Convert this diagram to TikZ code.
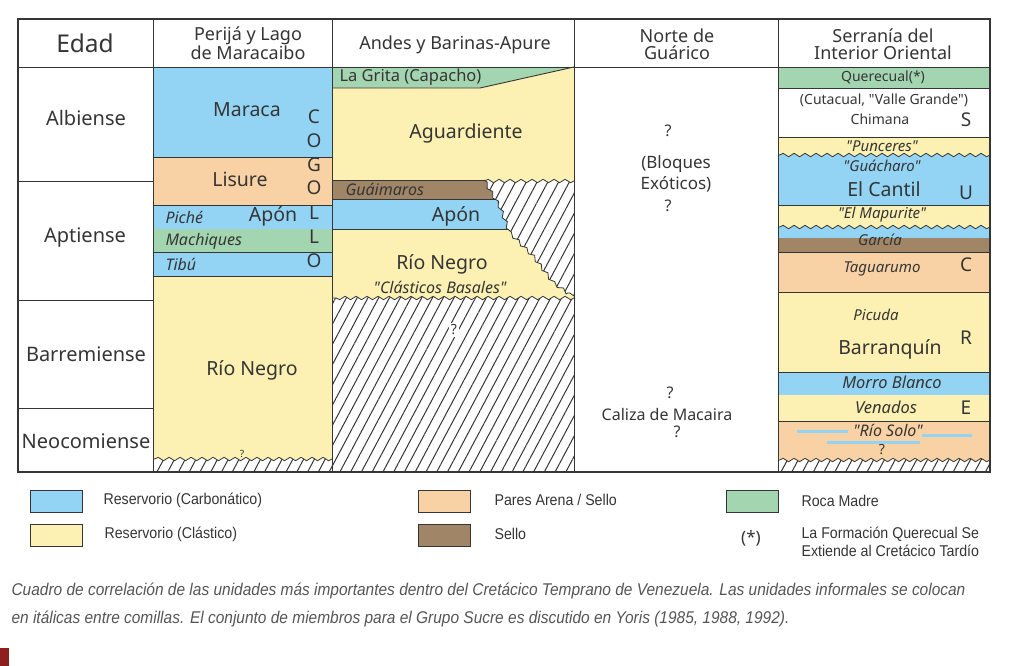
\documentclass[tikz,border=0pt]{standalone}
\usepackage{fontspec}
\setmainfont{Noto Sans}[Ligatures=TeXOff]
\newfontfamily\narrowfont[FakeStretch=0.91]{Liberation Sans}
\usetikzlibrary{patterns.meta,decorations.pathmorphing}
\definecolor{carbo}{HTML}{93D4F5}
\definecolor{clast}{HTML}{FCF1B3}
\definecolor{pares}{HTML}{F8D2A4}
\definecolor{sello}{HTML}{A08566}
\definecolor{roca}{HTML}{A4D5B1}
\definecolor{ink}{HTML}{353535}
\definecolor{capgray}{HTML}{555555}
\definecolor{tabred}{HTML}{8E1F1F}

\begin{document}
\begin{tikzpicture}[x=1pt,y=-1pt,
  decoration={snake,amplitude=1.7pt,segment length=11pt},
  ln/.style={draw=ink,line width=0.9pt},
  wave/.style={draw=ink,line width=0.8pt,decorate},
  hatch/.style={pattern={Lines[angle=62,distance=9.5pt,line width=1pt]},pattern color=ink},
  hd/.style={font=\fontsize{18}{17}\selectfont,align=center,text=ink},
  age/.style={font=\fontsize{20}{20}\selectfont,text=ink},
  unit/.style={font=\fontsize{19.5}{19}\selectfont,text=ink},
  sm/.style={font=\fontsize{14}{14}\selectfont,text=ink},
  it/.style={font=\fontsize{15}{15}\selectfont\itshape,text=ink},
  bigit/.style={font=\fontsize{16}{16}\selectfont\itshape,text=ink},
  grp/.style={font=\fontsize{19}{19}\selectfont,text=ink},
  leg/.style={font=\narrowfont\fontsize{15.6}{18}\selectfont,text=ink,anchor=west,align=left},
  key/.style={draw=ink,line width=0.9pt,minimum width=52pt,minimum height=22pt,inner sep=0pt}
]
\useasboundingbox (0,0) rectangle (1020,666);

% Perija y Lago de Maracaibo
\fill[carbo] (153,67) rectangle (332,157);
\fill[pares] (153,157) rectangle (332,205);
\fill[carbo] (153,205) rectangle (332,229);
\fill[roca] (153,229) rectangle (332,252);
\fill[carbo] (153,252) rectangle (332,276);
\fill[hatch] (153,452) rectangle (332,472);
\fill[clast] (153,276) -- (332,276) -- (332,459) decorate{-- (153,459)} -- cycle;
\draw[wave] (332,459) -- (153,459);
\draw[ln] (153,157) -- (332,157) (153,205) -- (332,205) (153,252) -- (332,252) (153,276) -- (332,276);

\node[unit] (maraca) at (247,110) {Maraca};
\node[unit] (lisure) at (240,179) {Lisure};
\node[bigit,anchor=west] (piche) at (162,217) {Piché};
\node[unit] (apon1) at (273,216) {Apón};
\node[bigit,anchor=west] (machiques) at (162,241) {Machiques};
\node[bigit,anchor=west] (tibu) at (162,264) {Tibú};
\node[unit] (rionegro1) at (252,370) {Río Negro};
\node[font=\fontsize{10}{10}\selectfont,text=ink,inner sep=1pt] (q1) at (242,454) {?};
\foreach \ch/\yy [count=\i] in {C/117,O/141,G/165,O/188,L/213,L/237,O/261}
  \node[grp] (cog\i) at (314,\yy) {\ch};

% Andes y Barinas-Apure
\fill[hatch] (332,178) rectangle (574,472);
\fill[roca] (332,67) -- (574,67) -- (480,88) -- (332,88) -- cycle;
\fill[clast] (332,88) -- (480,88) -- (574,67) -- (574,181) decorate{-- (484,181)} -- (332,181) -- cycle;
\draw[wave] (574,181) -- (484,181);
\draw[ln] (332,88) -- (480,88) -- (574,67);
\begin{scope}
  \clip (332,180) -- (484,180) decorate{-- (497,202) -- (507,228) -- (531,252) -- (553,281) -- (574,296)}
        -- (574,298) decorate{-- (332,298)} -- cycle;
  \fill[sello] (332,180) rectangle (574,199);
  \fill[carbo] (332,199) rectangle (574,229);
  \fill[clast] (332,229) rectangle (574,300);
  \draw[ln] (332,199) -- (574,199) (332,229) -- (574,229);
\end{scope}
\draw[ln] (332,180) -- (484,180);
\draw[wave] (484,180) -- (497,202) -- (507,228) -- (531,252) -- (553,281) -- (574,296);
\draw[wave] (574,298) -- (332,298);

\node[font=\fontsize{16.5}{16}\selectfont,text=ink,anchor=west] (grita) at (336,77) {La Grita (Capacho)};
\node[unit] (aguardiente) at (466,133) {Aguardiente};
\node[bigit,anchor=west] (guaimaros) at (342,189) {Guáimaros};
\node[unit] (apon2) at (456,216) {Apón};
\node[unit] (rionegro2) at (442,264) {Río Negro};
\node[bigit] (basales) at (440,287) {"Clásticos Basales"};
\node[sm,fill=white,inner sep=2pt] (q2) at (454,330) {?};

% Norte de Guarico
\node[sm,font=\fontsize{16}{16}\selectfont] (q3) at (668,131) {?};
\node[align=center,text=ink,font=\fontsize{17}{21}\selectfont] (bloques) at (676,174) {(Bloques\\Exóticos)};
\node[sm,font=\fontsize{16}{16}\selectfont] (q4) at (668,206) {?};
\node[sm,font=\fontsize{16}{16}\selectfont] (q5) at (670,393) {?};
\node[sm,font=\fontsize{16}{16}\selectfont] (macaira) at (667,414) {Caliza de Macaira};
\node[sm,font=\fontsize{16}{16}\selectfont] (q6) at (677,432) {?};

% Serrania del Interior Oriental
\fill[roca] (778,67) rectangle (990,88);
\fill[carbo] (778,150) rectangle (990,205);
\fill[clast] (778,137) -- (990,137) -- (990,155) decorate{-- (778,155)} -- cycle;
\draw[wave] (990,155) -- (778,155);
\fill[carbo] (778,220) rectangle (990,238);
\fill[clast] (778,205) -- (990,205) -- (990,227) decorate{-- (778,227)} -- cycle;
\draw[wave] (990,227) -- (778,227);
\fill[sello] (778,238) rectangle (990,252);
\fill[pares] (778,252) rectangle (990,292);
\fill[clast] (778,292) rectangle (990,372);
\fill[carbo] (778,372) rectangle (990,395);
\fill[clast] (778,395) rectangle (990,421);
\fill[hatch] (778,452) rectangle (990,472);
\fill[pares] (778,421) -- (990,421) -- (990,460) decorate{-- (778,460)} -- cycle;
\draw[wave] (990,460) -- (778,460);
\draw[carbo,line width=3pt] (797,431) -- (848,431) (922,435) -- (972,435) (827,442) -- (920,442);
\draw[ln] (778,88) -- (990,88) (778,137) -- (990,137) (778,205) -- (990,205) (778,252) -- (990,252)
          (778,292) -- (990,292) (778,372) -- (990,372) (778,421) -- (990,421);

\node[sm] (querecual) at (883,77) {Querecual(*)};
\node[sm] (cutacual) at (884,100) {(Cutacual, "Valle Grande")};
\node[sm] (chimana) at (880,119) {Chimana};
\node[it] (punceres) at (882,146) {"Punceres"};
\node[it] (guacharo) at (882,166) {"Guácharo"};
\node[unit] (cantil) at (884,189) {El Cantil};
\node[it] (mapurite) at (882,215) {"El Mapurite"};
\node[it] (garcia) at (880,240) {García};
\node[it] (taguarumo) at (882,269) {Taguarumo};
\node[it] (picuda) at (876,315) {Picuda};
\node[unit] (barranquin) at (890,349) {Barranquín};
\node[bigit,font=\fontsize{16.5}{16}\selectfont\itshape] (morro) at (892,382) {Morro Blanco};
\node[bigit,font=\fontsize{16.5}{16}\selectfont\itshape] (venados) at (886,407) {Venados};
\node[bigit] (riosolo) at (888,430) {"Río Solo"};
\node[sm] (q7) at (882,450) {?};
\foreach \ch/\yy [count=\i] in {S/120,U/193,C/265,R/338,E/408}
  \node[grp] (sucre\i) at (966,\yy) {\ch};

% frame and ages
\draw[ln,line width=1.3pt] (18,19) rectangle (990,472);
\draw[ln] (153,19) -- (153,472) (332,19) -- (332,472) (574,19) -- (574,472) (778,19) -- (778,472)
          (18,67) -- (990,67) (18,181) -- (153,181) (18,300) -- (153,300) (18,408) -- (153,408);

\node[font=\fontsize{24.5}{24}\selectfont,text=ink] (edad) at (85,43) {Edad};
\node[hd] (perija) at (248,43) {Perijá y Lago\\de Maracaibo};
\node[hd] (andes) at (455,45) {Andes y Barinas-Apure};
\node[hd] (norte) at (677,44) {Norte de\\Guárico};
\node[hd] (serrania) at (883,44) {Serranía del\\Interior Oriental};

\node[age] (albiense) at (86,118) {Albiense};
\node[age] (aptiense) at (85,238) {Aptiense};
\node[age] (barremiense) at (86,354) {Barremiense};
\node[age] (neocomiense) at (86,441) {Neocomiense};

% legend
\node[key,fill=carbo] (kcarb) at (56,501) {};
\node[leg] (tcarb) at (100,500) {Reservorio (Carbonático)};
\node[key,fill=clast] (kclast) at (56,535) {};
\node[leg] (tclast) at (101,534) {Reservorio (Clástico)};
\node[key,fill=pares] (kpares) at (444,501) {};
\node[leg] (tpares) at (491,500) {Pares Arena / Sello};
\node[key,fill=sello] (ksello) at (444,535) {};
\node[leg] (tsello) at (491,534) {Sello};
\node[key,fill=roca] (kroca) at (752,501) {};
\node[leg] (troca) at (798,501) {Roca Madre};
\node[font=\fontsize{17}{17}\selectfont,text=ink] (kast) at (751,538) {(*)};
\node[leg] (tast) at (798,542) {La Formación Querecual Se\\Extiende al Cretácico Tardío};

% caption
\node[anchor=west,text=capgray,font=\narrowfont\itshape\fontsize{17}{17}\selectfont] (cap1) at (8,591)
  {Cuadro de correlación de las unidades más importantes dentro del Cretácico Temprano de Venezuela. Las unidades informales se colocan};
\node[anchor=west,text=capgray,font=\narrowfont\itshape\fontsize{17}{17}\selectfont] (cap2) at (8,619)
  {en itálicas entre comillas. El conjunto de miembros para el Grupo Sucre es discutido en Yoris (1985, 1988, 1992).};
\fill[tabred] (0,648) rectangle (9,666);
\end{tikzpicture}
\end{document}
